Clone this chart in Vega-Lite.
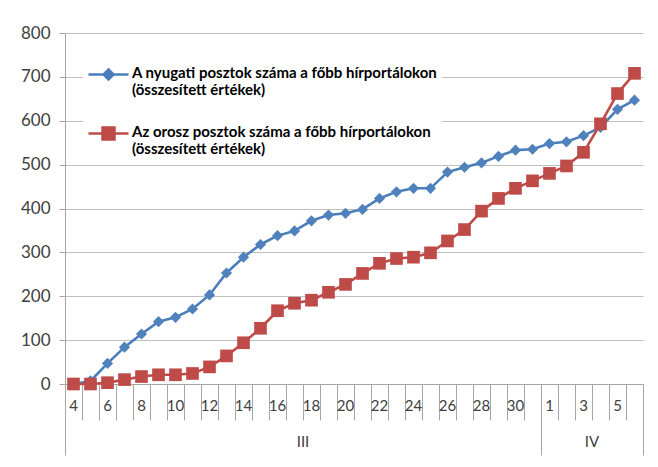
{
  "$schema": "https://vega.github.io/schema/vega-lite/v6.json",
  "width": 578,
  "height": 351,
  "autosize": "none",
  "padding": {"left": 65, "top": 33, "right": 15, "bottom": 83},
  "background": "white",
  "config": {
    "view": {"stroke": null},
    "font": "Lato"
  },
  "data": {
    "values": [
      {"datum": "03-04", "nyugati": 0, "orosz": 0},
      {"datum": "03-05", "nyugati": 7, "orosz": 0},
      {"datum": "03-06", "nyugati": 47, "orosz": 3},
      {"datum": "03-07", "nyugati": 84, "orosz": 10},
      {"datum": "03-08", "nyugati": 114, "orosz": 17},
      {"datum": "03-09", "nyugati": 142, "orosz": 21},
      {"datum": "03-10", "nyugati": 152, "orosz": 21},
      {"datum": "03-11", "nyugati": 171, "orosz": 24},
      {"datum": "03-12", "nyugati": 203, "orosz": 39},
      {"datum": "03-13", "nyugati": 253, "orosz": 64},
      {"datum": "03-14", "nyugati": 289, "orosz": 94},
      {"datum": "03-15", "nyugati": 318, "orosz": 127},
      {"datum": "03-16", "nyugati": 338, "orosz": 167},
      {"datum": "03-17", "nyugati": 349, "orosz": 184},
      {"datum": "03-18", "nyugati": 372, "orosz": 191},
      {"datum": "03-19", "nyugati": 385, "orosz": 209},
      {"datum": "03-20", "nyugati": 389, "orosz": 227},
      {"datum": "03-21", "nyugati": 398, "orosz": 252},
      {"datum": "03-22", "nyugati": 423, "orosz": 275},
      {"datum": "03-23", "nyugati": 438, "orosz": 286},
      {"datum": "03-24", "nyugati": 446, "orosz": 289},
      {"datum": "03-25", "nyugati": 446, "orosz": 299},
      {"datum": "03-26", "nyugati": 483, "orosz": 326},
      {"datum": "03-27", "nyugati": 494, "orosz": 352},
      {"datum": "03-28", "nyugati": 504, "orosz": 394},
      {"datum": "03-29", "nyugati": 519, "orosz": 423},
      {"datum": "03-30", "nyugati": 533, "orosz": 446},
      {"datum": "03-31", "nyugati": 535, "orosz": 463},
      {"datum": "04-01", "nyugati": 548, "orosz": 480},
      {"datum": "04-02", "nyugati": 552, "orosz": 497},
      {"datum": "04-03", "nyugati": 566, "orosz": 528},
      {"datum": "04-04", "nyugati": 585, "orosz": 593},
      {"datum": "04-05", "nyugati": 626, "orosz": 662},
      {"datum": "04-06", "nyugati": 647, "orosz": 708}
    ]
  },
  "transform": [
    {"fold": ["nyugati", "orosz"], "as": ["sorozat", "ertek"]}
  ],
  "resolve": {"axis": {"x": "independent"}},
  "layer": [
    {
      "mark": {"type": "line", "strokeWidth": 2.6},
      "encoding": {
        "x": {
          "field": "datum", "type": "ordinal", "sort": null,
          "scale": {"type": "band", "paddingInner": 0, "paddingOuter": 0},
          "axis": {
            "title": null, "orient": "bottom",
            "bandPosition": 1, "tickExtra": true,
            "tickSize": 36, "tickColor": "#a6a6a6", "tickWidth": 1,
            "domainColor": "#a6a6a6", "domainWidth": 1,
            "labelAngle": 0, "labelAlign": "center", "labelBaseline": "top",
            "labelPadding": -22, "labelFontSize": 15, "labelColor": "#404040",
            "labelFont": "Lato",
            "labelOverlap": false,
            "labelExpr": "!isString(datum.value) ? '' : (slice(datum.value,0,2)=='03' && toNumber(slice(datum.value,3))%2==0) || (slice(datum.value,0,2)=='04' && toNumber(slice(datum.value,3))%2==1) ? '' + toNumber(slice(datum.value,3)) : ''"
          }
        },
        "y": {
          "field": "ertek", "type": "quantitative",
          "scale": {"domain": [0, 800]},
          "axis": {
            "title": null, "values": [0, 100, 200, 300, 400, 500, 600, 700, 800],
            "grid": true, "gridColor": "#bfbfbf", "gridWidth": 1,
            "domain": true, "domainColor": "#a6a6a6",
            "ticks": true, "tickSize": 6, "tickColor": "#a6a6a6",
            "labelPadding": 9, "labelFontSize": 17, "labelColor": "#404040",
            "labelFont": "Lato"
          }
        },
        "color": {
          "field": "sorozat", "type": "nominal",
          "scale": {"domain": ["nyugati", "orosz"], "range": ["#4A7EBB", "#BE4B48"]},
          "legend": {
            "title": null, "orient": "none", "legendX": 18, "legendY": 7,
            "fillColor": "white", "padding": 4, "rowPadding": 5,
            "labelFont": "Lato", "labelFontWeight": "bold", "labelFontSize": 15,
            "labelColor": "#000000", "labelLimit": 500, "labelOffset": 2,
            "labelBaseline": "top",
            "symbolSize": 1600, "symbolStrokeWidth": 2.5,
            "labelExpr": "datum.value == 'nyugati' ? ['A nyugati posztok száma a főbb hírportálokon', '(összesített értékek)'] : ['Az orosz posztok száma a főbb hírportálokon', '(összesített értékek)']",
            "encode": {
              "symbols": {
                "update": {
                  "shape": {"signal": "datum.value == 'nyugati' ? 'M-1,0.45H1M0,0.2L0.25,0.45L0,0.7L-0.25,0.45Z' : 'M-1,0.45H1M-0.3,0.15H0.3V0.75H-0.3Z'"},
                  "fill": {"signal": "datum.value == 'nyugati' ? '#4A7EBB' : '#BE4B48'"},
                  "stroke": {"signal": "datum.value == 'nyugati' ? '#4A7EBB' : '#BE4B48'"}
                }
              }
            }
          }
        }
      }
    },
    {
      "transform": [{"filter": "datum.sorozat == 'nyugati'"}],
      "mark": {"type": "point", "filled": true, "opacity": 1, "size": 125, "shape": "diamond", "color": "#4F81BD"},
      "encoding": {
        "x": {
          "field": "datum", "type": "ordinal", "sort": null,
          "axis": {
            "title": null, "orient": "bottom",
            "values": ["03-04", "03-17", "03-31", "04-03", "04-06"],
            "bandPosition": 1, "tickExtra": true,
            "tickSize": 71, "tickColor": "#a6a6a6", "tickWidth": 1,
            "tickOpacity": {"condition": {"test": "datum.value == '03-04' || datum.value == '03-17' || datum.value == '04-03'", "value": 0}, "value": 1},
            "domain": false,
            "labelAngle": 0, "labelAlign": "center", "labelBaseline": "top",
            "labelPadding": -21, "labelOffset": 8.5, "labelFontSize": 15, "labelColor": "#404040",
            "labelFont": "Lato", "labelOverlap": false,
            "labelExpr": "datum.value == '03-17' ? 'III' : datum.value == '04-03' ? 'IV' : ''"
          }
        },
        "y": {"field": "ertek", "type": "quantitative"}
      }
    },
    {
      "transform": [{"filter": "datum.sorozat == 'orosz'"}],
      "mark": {"type": "point", "filled": true, "opacity": 1, "size": 160, "shape": "square", "color": "#BE4B48"},
      "encoding": {
        "x": {"field": "datum", "type": "ordinal", "sort": null, "axis": null},
        "y": {"field": "ertek", "type": "quantitative"}
      }
    }
  ]
}
